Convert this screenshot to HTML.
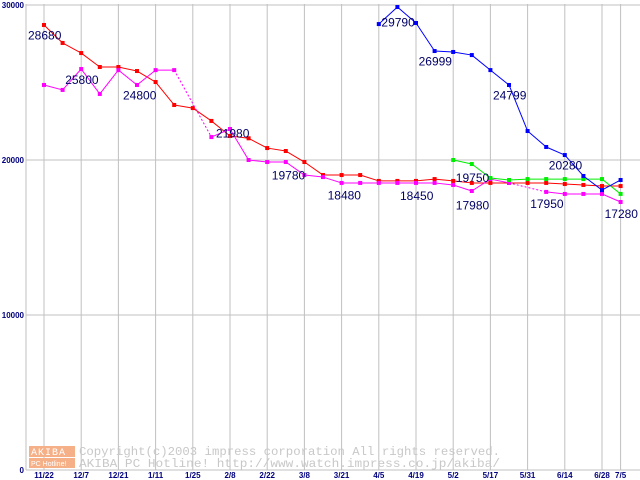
<!DOCTYPE html>
<html><head><meta charset="utf-8"><style>
html,body{margin:0;padding:0;background:#fff;}
svg{display:block;font-family:"Liberation Sans","DejaVu Sans",sans-serif;}
</style></head><body>
<svg id="chart" width="640" height="480" xmlns="http://www.w3.org/2000/svg">
<g id="grid"></g>
<g id="axes"></g>
<g id="watermark">
 <rect x="29" y="446" width="46" height="11" fill="#f6b088"/>
 <rect x="29" y="458" width="46" height="10" fill="#f6b088"/>
 <text x="31" y="455" font-size="10" fill="#fff" font-family="Liberation Mono,monospace" letter-spacing="1">AKIBA</text>
 <text x="31" y="466" font-size="7" fill="#fff">PC Hotline!</text>
 <text x="79" y="455" font-size="12" fill="#c8c8c8" font-family="Liberation Mono,monospace" textLength="421" lengthAdjust="spacingAndGlyphs">Copyright(c)2003 impress corporation All rights reserved.</text>
 <text x="79" y="467" font-size="12" fill="#c8c8c8" font-family="Liberation Mono,monospace" textLength="421" lengthAdjust="spacingAndGlyphs">AKIBA PC Hotline!  http://www.watch.impress.co.jp/akiba/</text>
</g>
<g id="series"></g>
<g id="labels"></g>
</svg>
<script>
const xLabels=["11/22","12/7","12/21","1/11","1/25","2/8","2/22","3/8","3/21","4/5","4/19","5/2","5/17","5/31","6/14","6/28","7/5"];
const xLabelIdx=[0,2,4,6,8,10,12,14,16,18,20,22,24,26,28,30,31];
const yTicks=[0,10000,20000,30000];
const redVals=[28710,27550,26900,26000,26000,25740,25030,23550,23350,22520,21550,21400,20770,20580,19870,19030,19030,19030,18650,18650,18650,18770,18650,18520,18520,18520,18520,18520,18450,18390,18320,18320];
const magVals=[24840,24520,25870,24260,25800,24840,25800,25800,null,21480,22000,20000,19870,19870,19030,18900,18520,18520,18520,18520,18520,18520,18390,18000,18770,18520,null,17940,17810,17810,17810,17290];
const blueVals=[null,null,null,null,null,null,null,null,null,null,null,null,null,null,null,null,null,null,28770,29870,28840,27030,26970,26770,25800,24840,21870,20840,20320,18970,18060,18710];
const greenVals=[null,null,null,null,null,null,null,null,null,null,null,null,null,null,null,null,null,null,null,null,null,null,20000,19740,18840,18710,18770,18770,18770,18770,18770,17810];
const valueLabels=["28680","25800","24800","21980","19780","18480","18450","29790","26999","24799","20280","19750","17980","17950","17280"];
const labelIdx=[0,2,5,10,13,16,20,19,21,25,28,23,23,27,31];
const labelVal=[28680,25800,24800,21980,19780,18480,18450,29790,26999,24799,20280,19750,17980,17950,17280];
const labelDx=[-16,-16,-14,-14,-14,-14,-16,-16,-16,-16,-16,-16,-16,-16,-16];
const labelDy=[14,14,14,8,16,16,16,18,14,14,14,18,18,16,16];

const NS="http://www.w3.org/2000/svg";
function X(i){return 44+i*18.6;}
function Y(v){return 470-v*0.0155;}
function mk(tag,attrs,parent){const e=document.createElementNS(NS,tag);for(const k in attrs)e.setAttribute(k,attrs[k]);parent.appendChild(e);return e;}
const grid=document.getElementById('grid'),axes=document.getElementById('axes'),series=document.getElementById('series'),labels=document.getElementById('labels');
for(let k=0;k<xLabels.length;k++){
 const x=X(xLabelIdx[k]);
 const l=mk('line',{x1:x,y1:4,x2:x,y2:470,stroke:'#c0c0c0','stroke-width':1},grid);
 
 
 const t=mk('text',{x:x,y:478,'font-size':8,'font-weight':'bold',fill:'#000080','text-anchor':'middle'},axes);
 t.textContent=xLabels[k];
 
 
}
for(const v of yTicks){
 const y=Y(v);
 const l=mk('line',{x1:26,y1:y,x2:640,y2:y,stroke:'#c0c0c0','stroke-width':1},grid);
 
 
 const t=mk('text',{x:24,y:y+3,'font-size':8,'font-weight':'bold',fill:'#000080','text-anchor':'end'},axes);
 t.textContent=String(v);
 
 
}
const ya=mk('line',{x1:26,y1:4,x2:26,y2:470,stroke:'#c0c0c0'},axes);


function drawSeries(vals,color,name){
 const g=mk('g',{},series);
 
 
 let prev=-1;
 for(let i=0;i<vals.length;i++){
  if(vals[i]==null)continue;
  if(prev>=0){
   const attrs={x1:X(prev),y1:Y(vals[prev]),x2:X(i),y2:Y(vals[i]),stroke:color,'stroke-width':1};
   if(i-prev>1)attrs['stroke-dasharray']='2,2';
   const s=mk('line',attrs,g);
   
   
  }
  const p=mk('rect',{x:X(i)-2,y:Y(vals[i])-2,width:4,height:4,fill:color},g);
  
  
  prev=i;
 }
}
drawSeries(redVals,'#ff0000','red-series');
drawSeries(magVals,'#ff00ff','magenta-series');
drawSeries(greenVals,'#00ee00','green-series');
drawSeries(blueVals,'#0000ff','blue-series');
for(let k=0;k<valueLabels.length;k++){
 const t=mk('text',{x:X(labelIdx[k])+labelDx[k],y:Y(labelVal[k])+labelDy[k],'font-size':12,fill:'#000066'},labels);
 t.textContent=valueLabels[k];
 
 
}
</script>
</body></html>
